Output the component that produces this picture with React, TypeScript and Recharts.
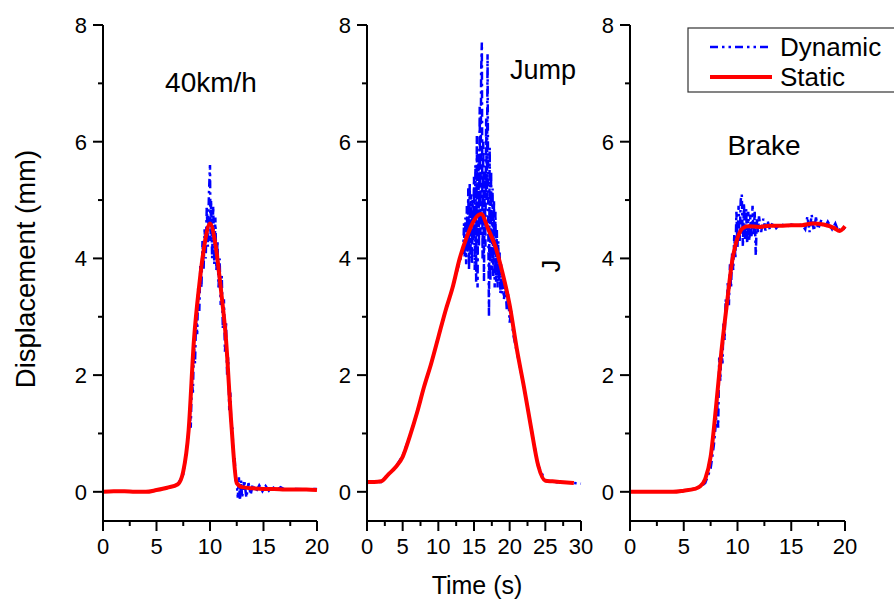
import React from "react";
import { Line, LineChart, XAxis, YAxis } from "recharts";

const FONT = '"Liberation Sans", Arial, sans-serif';

// y axis shared by the three panels
const yTicks = [0, 1, 2, 3, 4, 5, 6, 7, 8];

// 40km/h
const speedTicks = [0, 2.5, 5, 7.5, 10, 12.5, 15, 17.5, 20];
const speedStaticT = [0, 1, 2, 3, 4, 5, 6, 7, 7.5, 8, 8.5, 9, 9.5, 10, 10.5, 11, 11.5, 12, 12.5, 13, 14, 15, 16, 17, 18, 19, 20];
const speedStaticV = [0, 0.01, 0.01, 0, 0, 0.03, 0.07, 0.13, 0.35, 1.05, 2.6, 3.55, 4.25, 4.6, 4.25, 3.5, 2.6, 1.15, 0.15, 0.08, 0.06, 0.05, 0.05, 0.04, 0.04, 0.04, 0.03];
const speedDynT = [
  0, 1, 2, 3, 4, 5, 6, 7, 7.5, 7.8,
  8.0, 8.1, 8.2, 8.3, 8.4, 8.5, 8.6, 8.7, 8.8, 8.9,
  9.0, 9.1, 9.2, 9.3, 9.4, 9.5, 9.6, 9.7, 9.8, 9.9,
  10.0, 10.05, 10.1, 10.2, 10.3, 10.4, 10.5, 10.6, 10.7, 10.8, 10.9,
  11.0, 11.1, 11.2, 11.3, 11.4, 11.5, 11.6, 11.7, 11.8, 11.9,
  12.0, 12.1, 12.2, 12.3, 12.4, 12.5, 12.6, 12.7, 12.8, 12.9,
  13.0, 13.2, 13.4, 13.6, 13.8, 14.0, 14.3, 14.6, 14.9, 15.2, 15.5, 15.8, 16.2, 16.6, 17, 18, 19, 20,
];
const speedDynV = [
  0, 0.01, 0.01, 0, 0, 0.03, 0.07, 0.13, 0.3, 0.7,
  1.0, 1.4, 1.1, 1.9, 1.7, 2.5, 2.2, 3.0, 2.7, 3.5,
  3.1, 3.9, 3.5, 4.3, 3.8, 4.5, 4.0, 4.9, 4.2, 5.1,
  5.6, 4.3, 5.0, 4.0, 4.9, 3.9, 4.7, 3.8, 4.3, 3.5, 4.0,
  3.2, 3.7, 2.8, 3.3, 2.4, 2.9, 2.0, 2.3, 1.4, 1.7,
  1.0, 1.1, 0.5, 0.6, 0.2, 0.15, -0.1, 0.25, -0.15, 0.2,
  -0.1, 0.2, -0.1, 0.15, -0.05, 0.13, 0.0, 0.11, 0.01, 0.1, 0.02, 0.09, 0.03, 0.08, 0.04, 0.05, 0.04, 0.05,
];

// Jump
const jumpTicks = [0, 2.5, 5, 7.5, 10, 12.5, 15, 17.5, 20, 22.5, 25, 27.5, 30];
const jumpStaticT = [0, 1, 2, 3, 4, 5, 6, 7, 8, 9, 10, 11, 12, 13, 14, 15, 16, 17, 18, 19, 20, 21, 22, 23, 24, 25, 26, 27, 28, 29];
const jumpStaticV = [0.17, 0.17, 0.18, 0.3, 0.42, 0.6, 0.95, 1.35, 1.8, 2.2, 2.65, 3.1, 3.5, 4.0, 4.37, 4.65, 4.76, 4.5, 4.2, 3.75, 3.2, 2.45, 1.8, 1.1, 0.45, 0.19, 0.18, 0.17, 0.16, 0.15];
const jumpDynT = [
  0, 1, 2, 3, 4, 5, 6, 7, 8, 9, 10, 11, 12, 13,
  13.5, 13.6, 13.7, 13.8, 13.9, 14.0, 14.1, 14.2, 14.3, 14.4, 14.5, 14.6, 14.7, 14.8, 14.9,
  15.0, 15.1, 15.2, 15.3, 15.4, 15.5, 15.6, 15.7, 15.8, 15.9,
  16.0, 16.1, 16.2, 16.3, 16.4, 16.5, 16.6, 16.7, 16.8, 16.9,
  17.0, 17.1, 17.2, 17.3, 17.4, 17.5, 17.6, 17.7, 17.8, 17.9,
  18.0, 18.1, 18.2, 18.3, 18.4, 18.5, 18.6, 18.7, 18.8, 18.9,
  19.0, 19.2, 19.4, 19.6, 19.8, 20.0, 20.2, 20.5, 21, 22, 23, 24, 25, 26, 27, 28, 29, 30,
];
const jumpDynV = [
  0.15, 0.17, 0.17, 0.3, 0.42, 0.62, 0.95, 1.35, 1.8, 2.2, 2.65, 3.1, 3.5, 3.95,
  4.15, 4.6, 4.0, 4.7, 3.9, 4.9, 4.1, 5.2, 3.8, 5.3, 4.0, 5.1, 3.9, 5.0, 4.3,
  5.4, 3.8, 5.6, 3.6, 6.1, 3.5, 5.8, 4.2, 6.6, 4.4,
  7.2, 7.7, 4.0, 6.0, 3.6, 5.5, 4.2, 6.4, 5.0, 7.5,
  4.6, 3.0, 5.9, 3.6, 5.5, 3.8, 5.2, 3.7, 5.0, 3.5,
  4.8, 3.6, 4.5, 3.5, 4.3, 3.6, 4.1, 3.4, 3.9, 3.4,
  3.7, 3.3, 3.6, 3.1, 3.4, 2.9, 3.1, 2.7, 2.4, 1.8, 1.1, 0.45, 0.19, 0.17, 0.16, 0.16, 0.15, 0.14,
];

// Brake
const brakeTicks = [0, 2.5, 5, 7.5, 10, 12.5, 15, 17.5, 20];
const brakeStaticT = [0, 1, 2, 3, 4, 5, 6, 6.5, 7, 7.5, 8, 8.5, 9, 9.5, 10, 10.5, 11, 12, 13, 14, 15, 16, 17, 18, 19, 19.5, 20];
const brakeStaticV = [0, 0, 0, 0, 0, 0.02, 0.05, 0.09, 0.22, 0.6, 1.45, 2.4, 3.2, 3.95, 4.35, 4.52, 4.55, 4.54, 4.56, 4.56, 4.57, 4.57, 4.6, 4.58, 4.52, 4.47, 4.55];
const brakeDynT = [
  0, 1, 2, 3, 4, 5, 6, 6.5, 7, 7.5, 7.8,
  8.0, 8.1, 8.2, 8.3, 8.4, 8.5, 8.6, 8.7, 8.8, 8.9,
  9.0, 9.1, 9.2, 9.3, 9.4, 9.5, 9.6, 9.7, 9.8, 9.9,
  10.0, 10.1, 10.2, 10.3, 10.4, 10.5, 10.6, 10.7, 10.8, 10.9,
  11.0, 11.1, 11.2, 11.3, 11.4, 11.5, 11.6, 11.7, 11.8, 11.9,
  12.0, 12.2, 12.4, 12.6, 12.8, 13.0, 13.3, 13.6, 14.0, 14.5, 15, 15.5, 16,
  16.3, 16.5, 16.7, 16.9, 17.1, 17.3, 17.5, 17.8, 18.1, 18.4, 18.8, 19.1, 19.4, 19.7, 20,
];
const brakeDynV = [
  0, 0, 0, 0, 0, 0.02, 0.05, 0.08, 0.15, 0.4, 0.8,
  1.2, 1.6, 1.1, 2.3, 1.9, 2.5, 2.2, 2.9, 2.6, 3.3,
  3.1, 3.6, 3.2, 3.9, 3.5, 4.1, 3.8, 4.4, 4.0, 4.8,
  4.2, 4.9, 4.3, 5.0, 5.1, 4.2, 4.95, 4.3, 4.85, 4.25,
  4.8, 4.3, 4.75, 4.35, 4.9, 4.4, 4.8, 4.05, 4.7, 4.45,
  4.72, 4.45, 4.68, 4.48, 4.65, 4.5, 4.62, 4.52, 4.6, 4.54, 4.58, 4.56, 4.58,
  4.5, 4.72, 4.45, 4.75, 4.47, 4.7, 4.5, 4.66, 4.52, 4.63, 4.5, 4.6, 4.46, 4.55, 4.5,
];

type Pt = { t: number; v: number };
const zip = (ts: number[], vs: number[]): Pt[] => ts.map((t, i) => ({ t, v: vs[i] }));

const YTick = (props: any) => {
  const { x, y, payload } = props;
  const major = payload.value % 2 === 0;
  return (
    <g>
      <line x1={x - (major ? 10 : 5)} x2={x} y1={y} y2={y} stroke="#000" strokeWidth={2} />
      {major && (
        <text x={x - 16} y={y} dy="0.36em" textAnchor="end" fontSize={22} fontFamily={FONT} fill="#000">
          {payload.value}
        </text>
      )}
    </g>
  );
};

const XTick = (props: any) => {
  const { x, y, payload } = props;
  const major = payload.value % 5 === 0;
  return (
    <g>
      <line x1={x} x2={x} y1={y} y2={y + (major ? 10 : 5)} stroke="#000" strokeWidth={2} />
      {major && (
        <text x={x} y={y + 33} textAnchor="middle" fontSize={22} fontFamily={FONT} fill="#000">
          {payload.value}
        </text>
      )}
    </g>
  );
};

interface PanelProps {
  left: number;
  width: number;
  axisW: number;
  right: number;
  xMax: number;
  xTicks: number[];
  staticData: Pt[];
  dynData: Pt[];
}

const Panel = ({ left, width, axisW, right, xMax, xTicks, staticData, dynData }: PanelProps) => (
  <div style={{ position: "absolute", left, top: 0 }}>
    <LineChart width={width} height={599} margin={{ top: 25, right, bottom: 0, left: 0 }}>
      <XAxis
        dataKey="t"
        type="number"
        domain={[0, xMax]}
        ticks={xTicks}
        interval={0}
        height={78}
        tickSize={0}
        tickMargin={0}
        tickLine={false}
        axisLine={{ stroke: "#000", strokeWidth: 2 }}
        tick={(p: any) => <XTick {...p} />}
      />
      <YAxis
        dataKey="v"
        type="number"
        domain={[-0.5, 8]}
        ticks={yTicks}
        interval={0}
        width={axisW}
        tickSize={0}
        tickMargin={0}
        tickLine={false}
        allowDataOverflow
        axisLine={{ stroke: "#000", strokeWidth: 2 }}
        tick={(p: any) => <YTick {...p} />}
      />
      <Line
        data={dynData}
        dataKey="v"
        type="linear"
        stroke="#0000ff"
        strokeWidth={2.5}
        strokeDasharray="8 4 2.5 4"
        dot={false}
        isAnimationActive={false}
      />
      <Line
        data={staticData}
        dataKey="v"
        type="monotone"
        stroke="#ff0000"
        strokeWidth={4}
        dot={false}
        isAnimationActive={false}
      />
    </LineChart>
  </div>
);

const App = () => {
  const txt = { fontFamily: FONT, fill: "#000" };
  return (
    <div style={{ position: "absolute", left: 0, top: 0, width: 894, height: 599, background: "#fff" }}>
      <Panel left={0} width={335} axisW={103} right={18} xMax={20} xTicks={speedTicks}
        staticData={zip(speedStaticT, speedStaticV)} dynData={zip(speedDynT, speedDynV)} />
      <Panel left={335} width={260} axisW={32} right={14} xMax={30} xTicks={jumpTicks}
        staticData={zip(jumpStaticT, jumpStaticV)} dynData={zip(jumpDynT, jumpDynV)} />
      <Panel left={595} width={299} axisW={35} right={49} xMax={20} xTicks={brakeTicks}
        staticData={zip(brakeStaticT, brakeStaticV)} dynData={zip(brakeDynT, brakeDynV)} />
      <svg width={894} height={599} style={{ position: "absolute", left: 0, top: 0, pointerEvents: "none" }}>
        <text {...txt} x={25} y={269} fontSize={27.5} textAnchor="middle" dominantBaseline="central"
          transform="rotate(-90 25 269)">Displacement (mm)</text>
        <text {...txt} x={477} y={585} fontSize={25} textAnchor="middle" dominantBaseline="central">Time (s)</text>
        <text {...txt} x={211} y={82} fontSize={28} textAnchor="middle" dominantBaseline="central">40km/h</text>
        <text {...txt} x={543} y={70} fontSize={27} textAnchor="middle" dominantBaseline="central">Jump</text>
        <text {...txt} x={764} y={145} fontSize={28} textAnchor="middle" dominantBaseline="central">Brake</text>
        <text {...txt} x={551} y={266} fontSize={25} textAnchor="middle" dominantBaseline="central"
          transform="rotate(-90 551 266)">J</text>
        <rect x={688} y={28} width={220} height={64} fill="#fff" stroke="#333" strokeWidth={1.2} />
        <line x1={710} x2={772} y1={47} y2={47} stroke="#0000ff" strokeWidth={2.5} strokeDasharray="8 4 2.5 4 2.5 4" />
        <text {...txt} x={780} y={47} fontSize={26} dominantBaseline="central">Dynamic</text>
        <line x1={710} x2={772} y1={77} y2={77} stroke="#ff0000" strokeWidth={4} />
        <text {...txt} x={780} y={77} fontSize={26} dominantBaseline="central">Static</text>
      </svg>
    </div>
  );
};

export default App;
